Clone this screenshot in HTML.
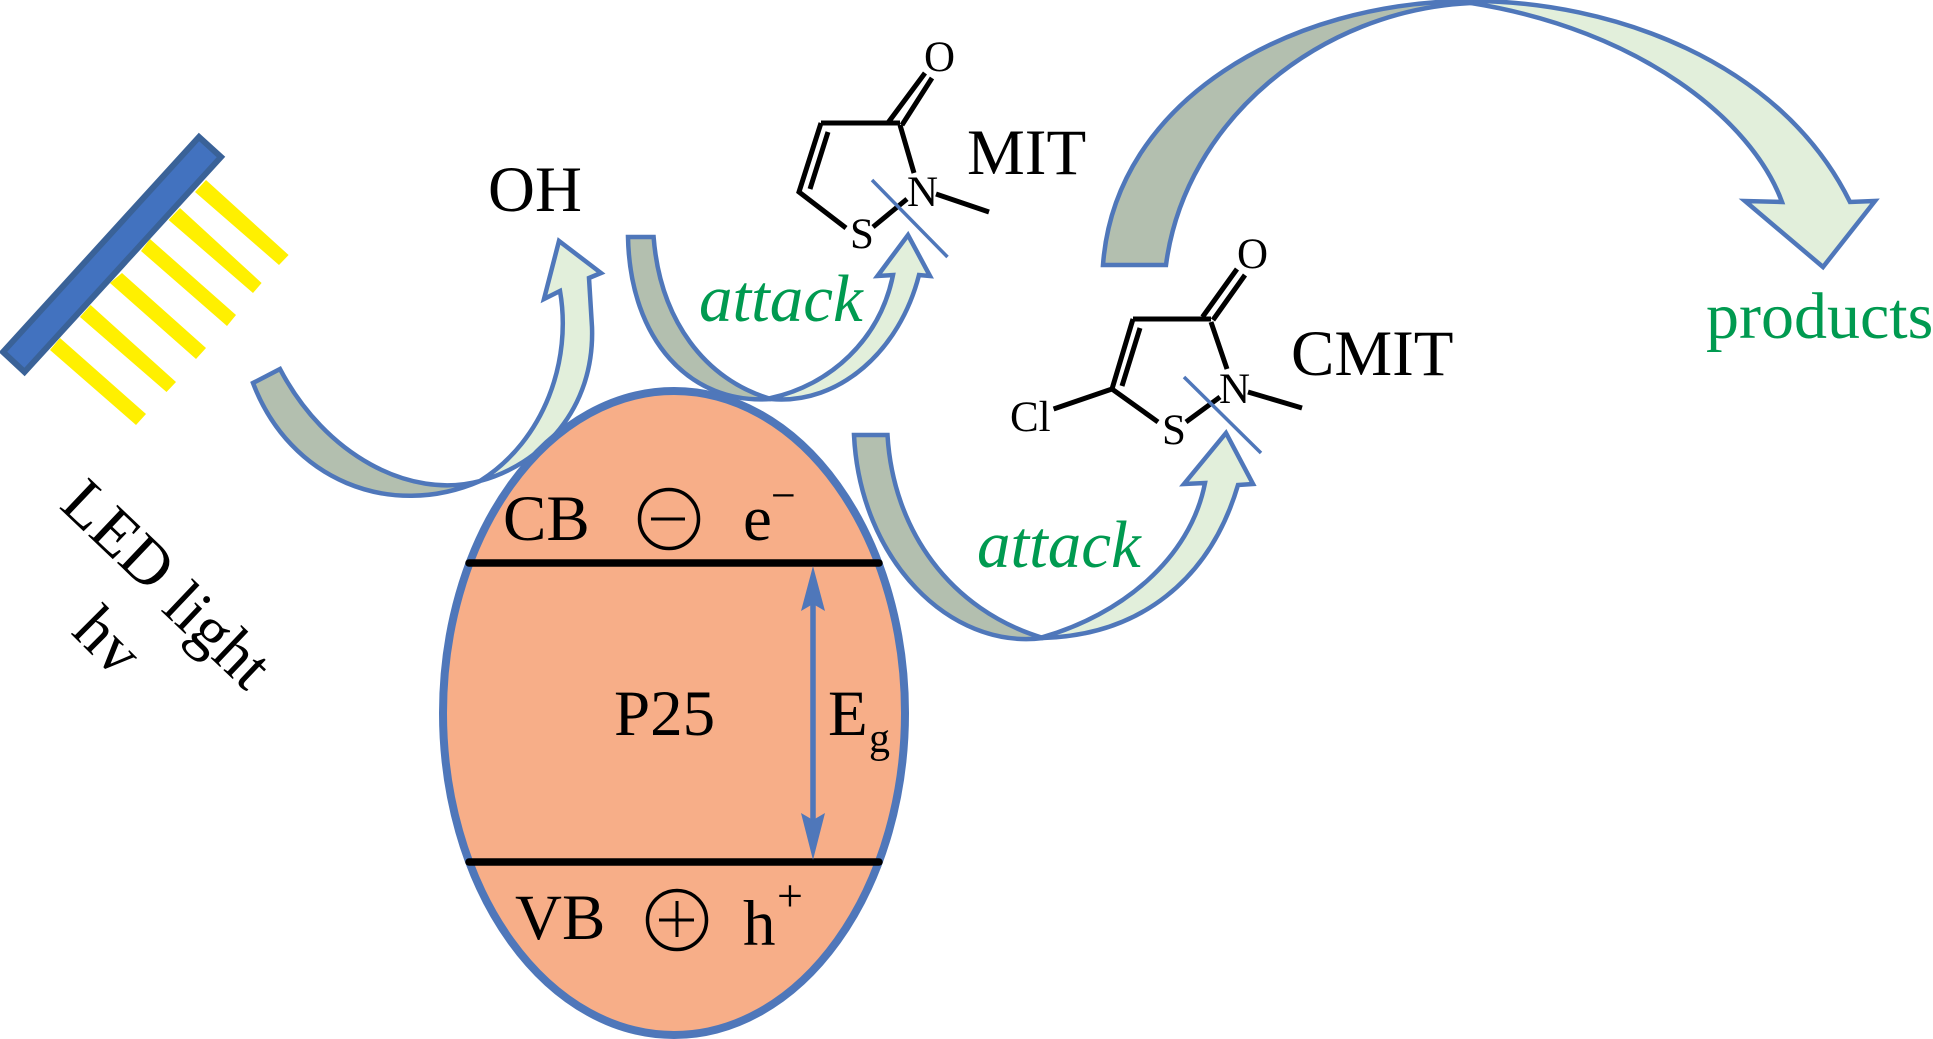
<!DOCTYPE html>
<html><head><meta charset="utf-8"><style>
html,body{margin:0;padding:0;background:#fff;width:1933px;height:1039px;overflow:hidden}
svg{display:block}
text{font-family:"Liberation Serif",serif;fill:#000}
.d{fill:#B3BFAF;stroke:#4F77BA;stroke-width:4.5;stroke-linejoin:miter}
.l{fill:#E2EFDB;stroke:#4F77BA;stroke-width:4.5;stroke-linejoin:miter}
.b{stroke:#000;stroke-width:5;fill:none}
.c{stroke:#4F77BA;stroke-width:3.5;fill:none}
.g{fill:#009A50;font-size:65px}
</style></head><body>
<svg width="1933" height="1039" viewBox="0 0 1933 1039" xmlns="http://www.w3.org/2000/svg">
<!-- LED rays -->
<g fill="#FFF000">
<polygon points="206,180 288.6,255 279,265 195,192"/>
<polygon points="180,208 261.6,283 253,293 168.6,220"/>
<polygon points="150,239 236,315 227,326 141,251"/>
<polygon points="122,273 206,348 196,359 110,283"/>
<polygon points="90.6,305 176,382 166.5,392 80,317"/>
<polygon points="60,338 146,414 136,425 50,350"/>
</g>
<polygon points="199,137 221,157 24.5,372 3,352" fill="#4272BF" stroke="#3A6298" stroke-width="6"/>

<!-- arrow 1 -->
<path class="l" d="M480,481 C540,465 595,410 592,327 L589,278 L601,273 L559,241 L544,299 L560,291 C572,360 545,440 480,481 Z"/>
<path class="d" d="M253,383 C290,480 390,520 480,481 C410,500 325,455 280,369 Z"/>
<!-- arrow 2 -->
<path class="l" d="M771,399 C840,405 900,350 919,275 L930,276 L908,235 L877.5,276 L893,275 C880,340 830,385 771,398 Z"/>
<path class="d" d="M628,237 C630,340 690,405 771,399 C705,380 660,320 653.6,237 Z"/>
<!-- arrow 3 -->
<path class="l" d="M1043,638 C1140,635 1210,580 1238,485 L1253,484 L1226,433 L1184,484 L1205,483 C1190,560 1120,615 1043,637 Z"/>
<path class="d" d="M854,435 C860,560 950,650 1043,638 C950,610 893,530 887.5,435 Z"/>
<!-- big arrow -->
<path class="l" d="M1471,1 C1610,1 1780,60 1850,202 L1875,201 L1823,267 L1745,201 L1782,202 C1752,120 1640,30 1471,3 Z"/>
<path class="d" d="M1103,265 C1115,100 1290,1 1471,1 L1471,3 C1320,10 1185,120 1166,265 Z"/>

<!-- P25 particle -->
<ellipse cx="674" cy="713" rx="231" ry="322" fill="#F7AE88" stroke="#4F77BA" stroke-width="8"/>
<line x1="469" y1="563" x2="879" y2="563" stroke="#000" stroke-width="7.5" stroke-linecap="round"/>
<line x1="469" y1="862" x2="879" y2="862" stroke="#000" stroke-width="7.5" stroke-linecap="round"/>
<line x1="813" y1="600" x2="813" y2="825" stroke="#4F77BA" stroke-width="5.5"/>
<polygon points="813,566 825,611 813,604 801,611" fill="#4F77BA"/>
<polygon points="813,860 825,813 813,820 801,813" fill="#4F77BA"/>
<circle cx="669" cy="519" r="29.5" fill="none" stroke="#000" stroke-width="3.5"/>
<line x1="651" y1="519" x2="685" y2="519" stroke="#000" stroke-width="3"/>
<circle cx="677" cy="920" r="29.5" fill="none" stroke="#000" stroke-width="3.5"/>
<line x1="659" y1="920" x2="694" y2="920" stroke="#000" stroke-width="3"/>
<line x1="677" y1="901" x2="677" y2="937" stroke="#000" stroke-width="3"/>

<g font-size="65">
<text x="503" y="540">CB</text>
<text x="743" y="540">e</text>
<text x="614" y="735">P25</text>
<text x="828" y="735">E</text>
<text x="515" y="939">VB</text>
<text x="743" y="945">h</text>
<text x="488" y="211">OH</text>
<text x="967" y="174">MIT</text>
<text x="1291" y="375">CMIT</text>
</g>
<text x="771" y="510" font-size="44">−</text>
<text x="869" y="752" font-size="42">g</text>
<text x="777" y="911" font-size="46">+</text>

<text class="g" x="699" y="321" font-style="italic" style="font-size:67px">attack</text>
<text class="g" x="977" y="567" font-style="italic" style="font-size:67px">attack</text>
<text class="g" x="1706" y="338" style="font-size:66px">products</text>

<text font-size="65" transform="translate(58,507) rotate(43.5)">LED</text>
<text font-size="65" transform="translate(160,610) rotate(43.5)">light</text>
<text font-size="65" transform="translate(70,633) rotate(45)">hv</text>

<!-- MIT molecule -->
<g>
<path class="b" d="M888.6,122 L925,73 M902,125 L932,78 M821,123 L900,123 M900,125 L914,173 M936,194 L989,212 M873,227 L907,199 M846,228 L799,192 L821,123 M828,132 L810,189"/>
<line class="c" x1="872" y1="180" x2="947.5" y2="257"/>
<g font-size="43">
<text x="924" y="71">O</text>
<text x="907" y="206">N</text>
<text x="850" y="248">S</text>
</g>
</g>
<!-- CMIT molecule -->
<g>
<path class="b" d="M1202.5,317 L1237,269 M1213,320 L1245,275 M1133,319 L1211,319 M1211,322 L1227,369 M1248,392 L1302,408 M1186,422 L1220,397 M1158,422 L1112,389 L1133,319 M1140,328 L1122,386 M1053.6,409 L1112,389"/>
<line class="c" x1="1184" y1="377" x2="1261" y2="453"/>
<g font-size="43">
<text x="1237" y="268">O</text>
<text x="1219" y="403">N</text>
<text x="1162" y="444">S</text>
<text x="1010" y="431">Cl</text>
</g>
</g>
</svg>
</body></html>
